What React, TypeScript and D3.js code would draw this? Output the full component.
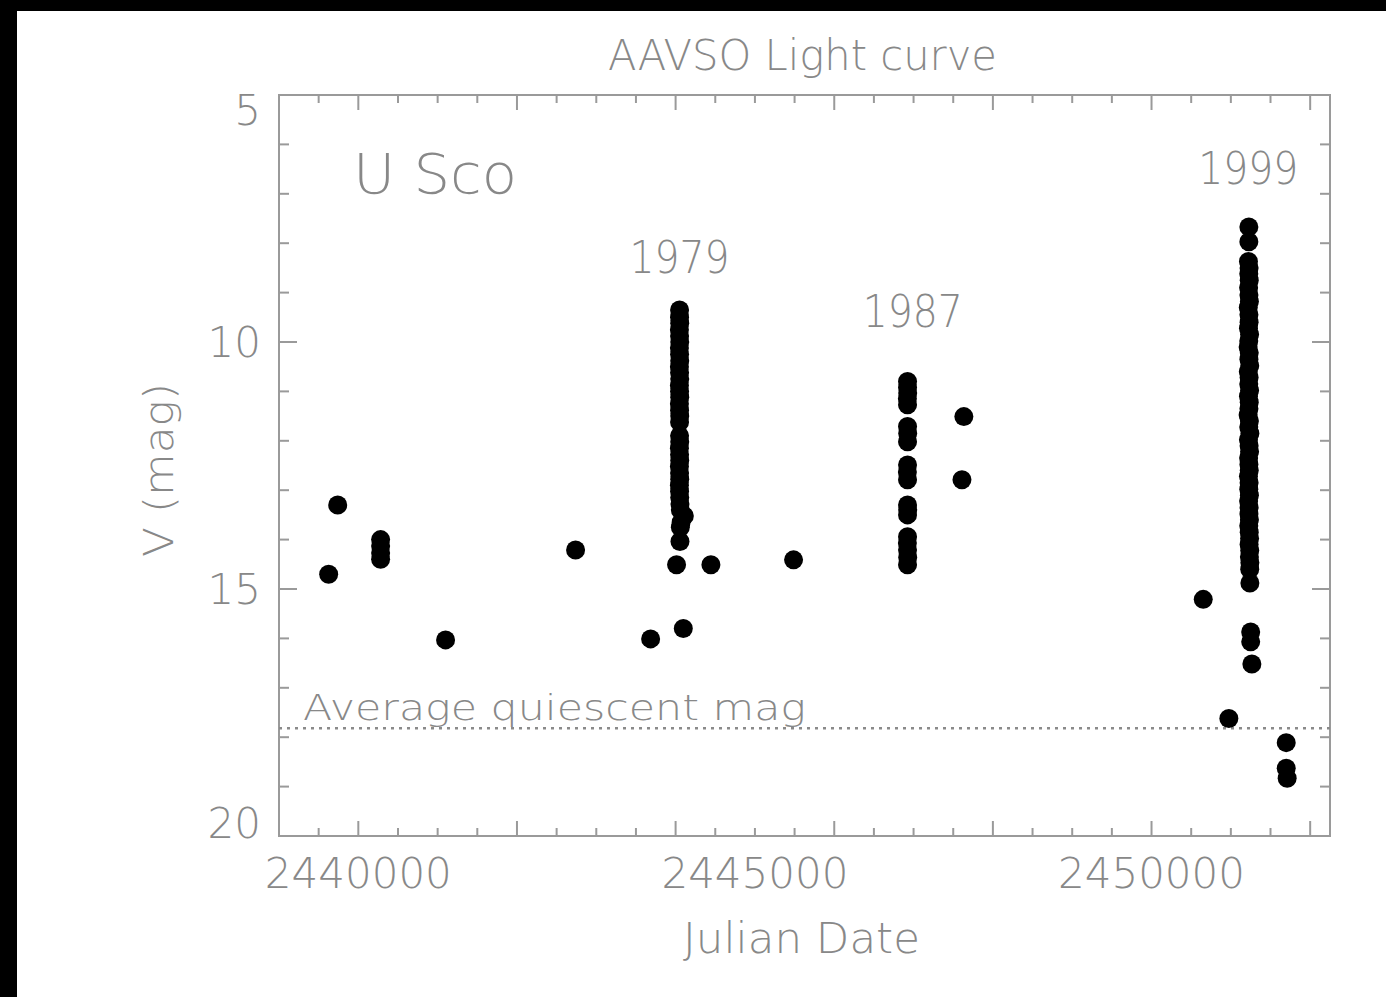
import React from "react";
import * as d3 from "d3";

// ---- data (Julian Date, V magnitude) ----
const quiescentEarly: [number, number][] = [
  [2439626, 14.7],
  [2439740, 13.3],
  [2440281, 14.0],
  [2440281, 14.13],
  [2440281, 14.27],
  [2440281, 14.4],
  [2441100, 16.03],
  [2442739, 14.21],
  [2443685, 16.01],
];

const outburst1979: [number, number][] = [
  [2444050, 9.35], [2444050, 9.5], [2444052, 9.62], [2444048, 9.75], [2444050, 9.88],
  [2444052, 10.0], [2444048, 10.12], [2444050, 10.25], [2444052, 10.38], [2444048, 10.5],
  [2444050, 10.62], [2444052, 10.75], [2444048, 10.88], [2444050, 11.0], [2444052, 11.12],
  [2444048, 11.25], [2444050, 11.38], [2444052, 11.5], [2444050, 11.62],
  [2444050, 11.9], [2444052, 12.02], [2444048, 12.15], [2444050, 12.28], [2444052, 12.4],
  [2444048, 12.52], [2444050, 12.65], [2444052, 12.78], [2444048, 12.9], [2444050, 13.02],
  [2444052, 13.15], [2444055, 13.28], [2444060, 13.4], [2444110, 13.52], [2444070, 13.65],
  [2444060, 13.75], [2444055, 14.04],
  [2444012, 14.51], [2444445, 14.51], [2444097, 15.8],
];

const quiescentMid: [number, number][] = [[2445487, 14.41]];

const outburst1987: [number, number][] = [
  [2446924, 10.8], [2446924, 10.92], [2446926, 11.03], [2446922, 11.15], [2446924, 11.27],
  [2446924, 11.71], [2446926, 11.85], [2446924, 12.02],
  [2446924, 12.49], [2446922, 12.63], [2446924, 12.79],
  [2446924, 13.3], [2446926, 13.4], [2446924, 13.5],
  [2446924, 13.94], [2446922, 14.07], [2446924, 14.21], [2446926, 14.36], [2446924, 14.51],
  [2447634, 11.51], [2447610, 12.79],
];

const outburst1999: [number, number][] = [
  [2450652, 15.21], [2450975, 17.62],
  [2451227, 7.67], [2451227, 7.97],
  [2451222, 8.37], [2451230, 8.5], [2451226, 8.62], [2451232, 8.75], [2451224, 8.9],
  [2451228, 9.05], [2451234, 9.18], [2451220, 9.3], [2451228, 9.45], [2451230, 9.6],
  [2451222, 9.72], [2451236, 9.85], [2451226, 9.98], [2451218, 10.1], [2451232, 10.22],
  [2451228, 10.35], [2451238, 10.48], [2451220, 10.6], [2451230, 10.72], [2451226, 10.85],
  [2451236, 10.98], [2451222, 11.1], [2451232, 11.22], [2451228, 11.35], [2451218, 11.48],
  [2451234, 11.6], [2451226, 11.72], [2451240, 11.85], [2451222, 11.98], [2451230, 12.1],
  [2451236, 12.22], [2451224, 12.35], [2451228, 12.48], [2451232, 12.6], [2451222, 12.72],
  [2451230, 12.85], [2451226, 12.98], [2451234, 13.1], [2451224, 13.22], [2451230, 13.35],
  [2451228, 13.48], [2451234, 13.6], [2451226, 13.72], [2451232, 13.85], [2451236, 13.98],
  [2451230, 14.1], [2451238, 14.22], [2451234, 14.35], [2451240, 14.47], [2451238, 14.6],
  [2451240, 14.88],
  [2451250, 15.87], [2451250, 16.07], [2451265, 16.52],
  [2451698, 18.11], [2451698, 18.63], [2451710, 18.83],
];

const quiescentMag = 17.82;
const xDomain: [number, number] = [2439000, 2452250];
const yDomain: [number, number] = [5, 20];
const xLabelTicks = [2440000, 2445000, 2450000];
const xMajorTicks = [2440000, 2442000, 2444000, 2446000, 2448000, 2450000, 2452000];
const xMinorTicks = d3.range(2439500, 2452250, 500);
const yLabelTicks = [5, 10, 15, 20];
const yMinorTicks = d3.range(6, 20, 1);

const outburstLabels: { text: string; jd: number; mag: number }[] = [
  { text: "1979", jd: 2444050, mag: 8.6 },
  { text: "1987", jd: 2446990, mag: 9.7 },
  { text: "1999", jd: 2451220, mag: 6.8 },
];

const W = 1386;
const H = 997;
const L = 279, R = 1330, T = 95, B = 836;
const AXIS = "#9a9a9a";
const TEXT = "#888888";
const FONT = "'DejaVu Sans', 'Open Sans', sans-serif";

export default function App() {
  const x = d3.scaleLinear().domain(xDomain).range([L, R]);
  const y = d3.scaleLinear().domain(yDomain).range([T, B]);
  const all = [...quiescentEarly, ...outburst1979, ...quiescentMid, ...outburst1987, ...outburst1999];

  const yLabelY = (v: number) => {
    const base = y(v) + 15;
    return Math.min(Math.max(base, T + 30), B + 2);
  };

  return (
    <svg width={W} height={H} style={{ position: "absolute", left: 0, top: 0 }}>
      <rect x={0} y={0} width={W} height={H} fill="#000" />
      <rect x={17} y={11} width={W - 17} height={H - 11} fill="#fff" />

      {/* frame */}
      <rect x={L} y={T} width={R - L} height={B - T} fill="none" stroke={AXIS} strokeWidth={2} />

      {/* x ticks */}
      {xMinorTicks.map((t) => {
        const major = xMajorTicks.includes(t);
        const len = major ? 15 : 8;
        return (
          <g key={"xt" + t} stroke={AXIS} strokeWidth={2}>
            <line x1={x(t)} x2={x(t)} y1={B} y2={B - len} />
            <line x1={x(t)} x2={x(t)} y1={T} y2={T + len} />
          </g>
        );
      })}
      {/* y ticks */}
      {[...yMinorTicks, ...yLabelTicks].map((t) => {
        const major = yLabelTicks.includes(t);
        const len = major ? 18 : 10;
        return (
          <g key={"yt" + t} stroke={AXIS} strokeWidth={2}>
            <line x1={L} x2={L + len} y1={y(t)} y2={y(t)} />
            <line x1={R} x2={R - len} y1={y(t)} y2={y(t)} />
          </g>
        );
      })}

      <g fontFamily={FONT} fontWeight={200} fill={TEXT}>
        {xLabelTicks.map((t) => (
          <text key={"xl" + t} x={x(t)} y={888} fontSize={42} textAnchor="middle" textLength={187} lengthAdjust="spacingAndGlyphs">
            {String(t)}
          </text>
        ))}
        {yLabelTicks.map((t) => (
          <text key={"yl" + t} x={261} y={yLabelY(t)} fontSize={42} textAnchor="end">
            {String(t)}
          </text>
        ))}
        <text x={802.5} y={70} fontSize={42} textAnchor="middle" textLength={389} lengthAdjust="spacingAndGlyphs">
          AAVSO Light curve
        </text>
        <text x={353} y={193} fontSize={56} textLength={164} lengthAdjust="spacingAndGlyphs">
          U Sco
        </text>
        <text x={801.5} y={953} fontSize={42} textAnchor="middle" textLength={237} lengthAdjust="spacingAndGlyphs">
          Julian Date
        </text>
        <text
          transform={`translate(173,470) rotate(-90)`}
          fontSize={40}
          textAnchor="middle"
          textLength={174}
          lengthAdjust="spacingAndGlyphs"
        >
          V (mag)
        </text>
        {outburstLabels.map((d) => (
          <text key={d.text} x={x(d.jd)} y={y(d.mag)} fontSize={44} textAnchor="middle" textLength={100} lengthAdjust="spacingAndGlyphs">
            {d.text}
          </text>
        ))}
        <text x={303} y={720} fontSize={36} textLength={503} lengthAdjust="spacingAndGlyphs">
          Average quiescent mag
        </text>
      </g>

      {/* quiescent line */}
      <line
        x1={L}
        x2={R}
        y1={y(quiescentMag)}
        y2={y(quiescentMag)}
        stroke="#8a8a8a"
        strokeWidth={2.5}
        strokeDasharray="3,5"
      />

      {/* data */}
      <g fill="#000">
        {all.map((d, i) => (
          <circle key={i} cx={x(d[0])} cy={y(d[1])} r={9.5} />
        ))}
      </g>
    </svg>
  );
}
